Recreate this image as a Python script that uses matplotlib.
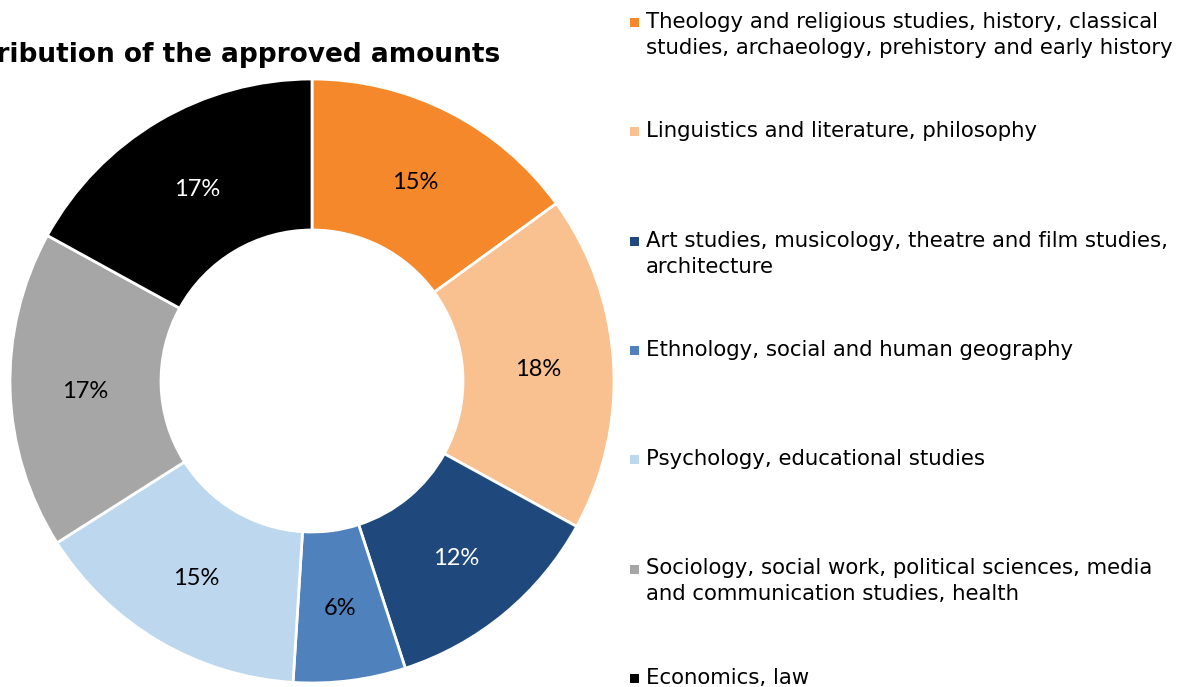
import matplotlib
matplotlib.use("Agg")
import matplotlib.pyplot as plt
from matplotlib.patches import Rectangle
import numpy as np

categories = [
    "Theology and religious studies, history, classical\nstudies, archaeology, prehistory and early history",
    "Linguistics and literature, philosophy",
    "Art studies, musicology, theatre and film studies,\narchitecture",
    "Ethnology, social and human geography",
    "Psychology, educational studies",
    "Sociology, social work, political sciences, media\nand communication studies, health",
    "Economics, law",
]
shares = [15, 18, 12, 6, 15, 17, 17]
colors = ["#F5882A", "#F9C090", "#1F497D", "#4F81BD", "#BDD7EE", "#A6A6A6", "#000000"]
label_colors = ["black", "black", "white", "black", "black", "black", "white"]
title = "Distribution of the approved amounts"

W, H = 1179, 687
fig = plt.figure(figsize=(W / 100, H / 100), dpi=100)
fig.patch.set_facecolor("white")

cx, cy, R = 312, 381, 302
ax = fig.add_axes([(cx - R) / W, (H - cy - R) / H, 2 * R / W, 2 * R / H])
wedges, texts = ax.pie(
    shares, colors=colors, startangle=90, counterclock=False, radius=1.0,
    wedgeprops=dict(width=0.5, edgecolor="white", linewidth=2),
)
ax.set_xlim(-1, 1)
ax.set_ylim(-1, 1)
ax.set_aspect("equal")
ax.axis("off")

for w, v, tc in zip(wedges, shares, label_colors):
    ang = np.deg2rad((w.theta1 + w.theta2) / 2)
    r = 0.75
    ax.text(r * np.cos(ang), r * np.sin(ang) - 0.01, f"{v}%", ha="center", va="center",
            fontsize=17, color=tc, family="Lato")

fig.text(500 / W, 1 - 62 / H, title, ha="right", va="baseline",
         fontsize=19, fontweight="bold", family="DejaVu Sans")

b0, pitch, lstep = 28, 109.3, 26
for i, (cat, col) in enumerate(zip(categories, colors)):
    base = b0 + pitch * i
    fig.patches.append(Rectangle((630 / W, 1 - (base - 1) / H), 9 / W, 9 / H,
                                 transform=fig.transFigure, facecolor=col, edgecolor="none"))
    for j, line in enumerate(cat.split("\n")):
        fig.text(646 / W, 1 - (base + lstep * j) / H, line, ha="left", va="baseline",
                 fontsize=15.3, family="DejaVu Sans")

fig.savefig("out.png", dpi=100)
